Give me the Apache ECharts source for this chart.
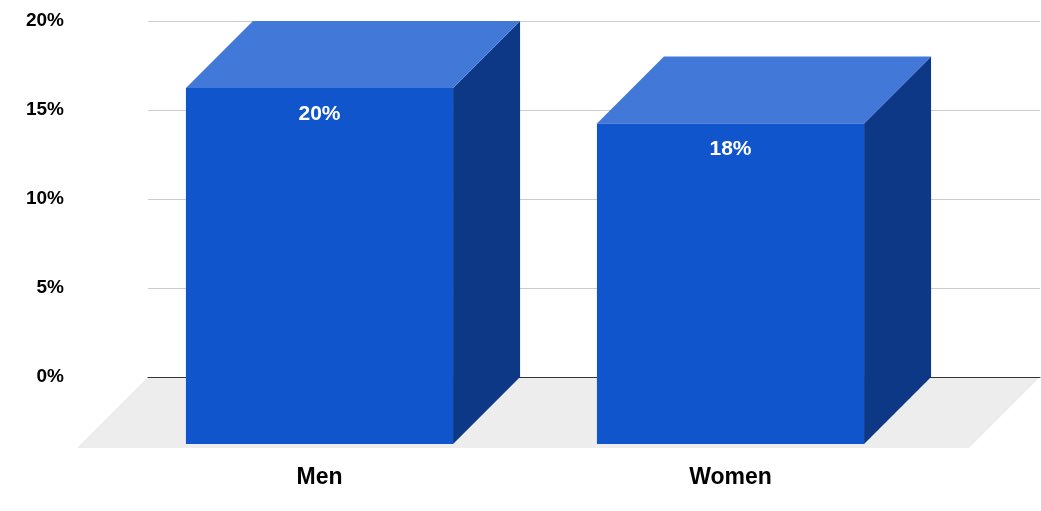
<!DOCTYPE html>
<html>
<head>
<meta charset="utf-8">
<script src="https://cdn.jsdelivr.net/npm/echarts@6/dist/echarts.min.js"></script>
<style>
  html, body { margin: 0; padding: 0; background: #fff; }
  #chart { width: 1041px; height: 511px; }
</style>
</head>
<body>
<div id="chart"></div>
<script>
"use strict";
/** Categories along the x axis */
const categories = ["Men", "Women"];
/** Share in percent, one per category */
const shares = [20, 18];
/** Y axis range */
const yMin = 0;
const yMax = 20;
const yStep = 5;

/* ============= drawing constants =================== */
const BAR_W = 0.65;      // bar width in x-axis units
const DEPTH = 67;        // 3d offset of bars, px
const FLOOR_DEPTH = 71;  // 3d offset of the floor, px
const FONT = "'Liberation Sans', Arial, sans-serif";

let chart = echarts.init(document.getElementById("chart"));

function RenderFloor(params, api) {
    let cs = params.coordSys;
    let by = api.coord([0, 0])[1];
    return {
        type: "polygon",
        shape: {
            points: [
                [cs.x, by],
                [cs.x + cs.width, by],
                [cs.x + cs.width - FLOOR_DEPTH, by + FLOOR_DEPTH],
                [cs.x - FLOOR_DEPTH, by + FLOOR_DEPTH]
            ]
        },
        style: { fill: "#ededed" },
        silent: true
    };
}

function RenderBar(params, api) {
    let top = api.coord([api.value(0), api.value(1)]);
    let base = api.coord([api.value(0), 0]);
    let w = api.size([BAR_W, 0])[0];
    let bl = top[0] - w / 2;      // back left x
    let fl = bl - DEPTH;          // front left x
    let ftop = top[1] + DEPTH;
    let fbot = base[1] + DEPTH;
    let fc = fl + w / 2;
    return {
        type: "group",
        children: [
            {
                type: "polygon",
                shape: { points: [[fl + w, ftop], [bl + w, top[1]], [bl + w, base[1]], [fl + w, fbot]] },
                style: { fill: "#0d3885" }
            },
            {
                type: "polygon",
                shape: { points: [[fl, ftop], [fl + w, ftop], [bl + w, top[1]], [bl, top[1]]] },
                style: { fill: "#4278d8" }
            },
            {
                type: "rect",
                shape: { x: fl, y: ftop, width: w, height: fbot - ftop },
                style: { fill: "#1155cc" }
            },
            {
                type: "text",
                x: fc, y: ftop + 26,
                style: {
                    text: api.value(1) + "%", fill: "#fff",
                    font: "bold 21px " + FONT, align: "center", verticalAlign: "middle"
                }
            },
            {
                type: "text",
                x: fc, y: fbot + 34,
                style: {
                    text: categories[params.dataIndex], fill: "#000",
                    font: "bold 23px " + FONT, align: "center", verticalAlign: "middle"
                }
            }
        ]
    };
}

let option = {
    animation: false,
    grid: { left: 148, right: 1, top: 21, bottom: 134 },
    xAxis: {
        type: "value",
        min: -0.5803,
        max: 1.59,
        z: 5,
        axisLine: { show: true, lineStyle: { color: "#333", width: 1 } },
        axisTick: { show: false },
        axisLabel: { show: false },
        splitLine: { show: false }
    },
    yAxis: {
        type: "value",
        min: yMin,
        max: yMax,
        interval: yStep,
        axisLine: { show: false },
        axisTick: { show: false },
        axisLabel: {
            formatter: "{value}%",
            margin: 84,
            padding: [5, 0, 0, 0],
            color: "#000",
            fontWeight: "bold",
            fontSize: 19,
            fontFamily: FONT
        },
        splitLine: { lineStyle: { color: "#cccccc", width: 1 } }
    },
    series: [
        {
            type: "custom",
            z: 1,
            renderItem: RenderFloor,
            data: [[0, 0]]
        },
        {
            type: "custom",
            z: 10,
            renderItem: RenderBar,
            data: shares.map((v, i) => [i, v])
        }
    ]
};
chart.setOption(option);
</script>
</body>
</html>
